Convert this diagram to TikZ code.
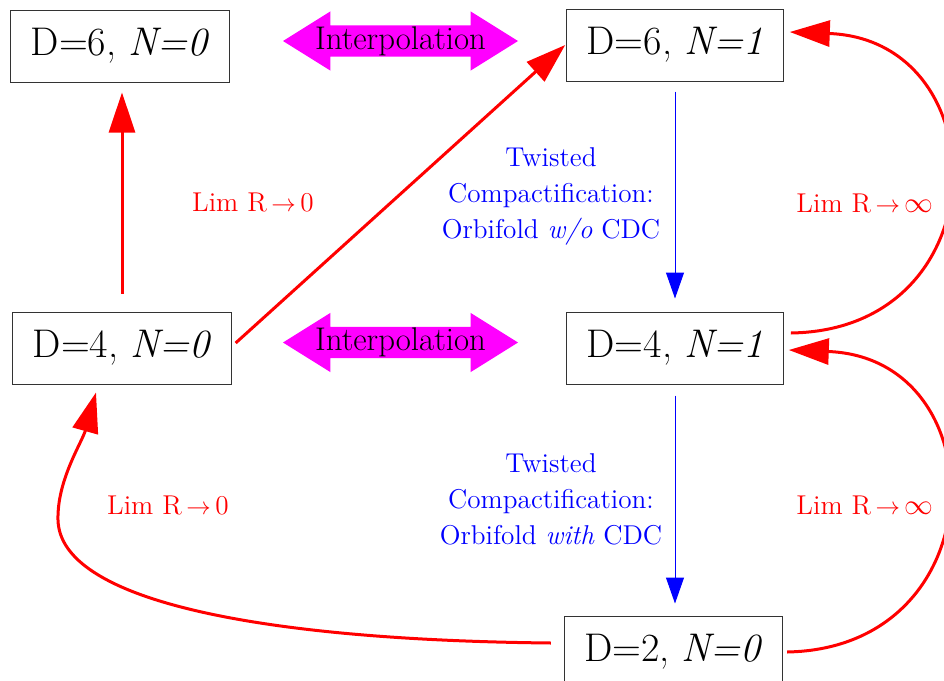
\documentclass[tikz,border=0pt]{standalone}
\usepackage{tikz}
\usetikzlibrary{arrows.meta, shapes.arrows}
\definecolor{interpmagenta}{RGB}{255, 0, 255}
\newcommand{\limsym}{\,\scalebox{0.85}{$\rightarrow$}\,}

\begin{document}
\begin{tikzpicture}[
  x=0.5pt, y=-0.5pt,
  statebox/.style={draw=black!80, line width=0.5pt, fill=white, minimum height=36pt, inner xsep=10pt, font=\fontsize{20}{24}\selectfont},
  interbox/.style={double arrow, fill=interpmagenta, minimum height=117.5pt, inner xsep=0pt, inner ysep=0.3pt, double arrow tip angle=64, double arrow head extend=7pt, font=\fontsize{16.4}{19}\selectfont},
  redlabel/.style={text=red, font=\fontsize{13.6}{18}\selectfont},
  bluelabel/.style={text=blue, align=center, font=\fontsize{13.6}{18}\selectfont},
  limarrow/.style={-{Triangle[length=20pt, width=13pt]}, red, line width=1.5pt},
  twistarrow/.style={-{Triangle[length=13pt, width=9pt]}, blue, line width=0.5pt}
]
\useasboundingbox (0,0) rectangle (944,681);

% States
\node[statebox] (d6n0) at (120,46) {D=6, \textit{N=0}};
\node[statebox] (d6n1) at (675,45) {D=6, \textit{N=1}};
\node[statebox] (d4n0) at (122,348) {D=4, \textit{N=0}};
\node[statebox] (d4n1) at (675,348) {D=4, \textit{N=1}};
\node[statebox] (d2n0) at (673.5,652) {D=2, \textit{N=0}};

% Interpolation arrows
\node[interbox] (inter6) at (400.5,41) {\makebox[60pt]{Interpolation}};
\node[interbox] (inter4) at (400.5,342.5) {\makebox[60pt]{Interpolation}};

% Twisted compactifications
\draw[twistarrow] ([yshift=-5pt]d6n1.south) -- ([yshift=6.5pt]d4n1.north);
\draw[twistarrow] ([yshift=-5.5pt]d4n1.south) -- ([yshift=6pt]d4n1.south |- d2n0.north);
\node[bluelabel] (twist1) at (551,196) {Twisted\\Compactification:\\Orbifold \textit{w/o} CDC};
\node[bluelabel] (twist2) at (551,499) {Twisted\\Compactification:\\Orbifold \textit{with} CDC};

% Limits R -> 0
\draw[limarrow] ([yshift=9pt]d4n0.north) -- ([yshift=-5pt]d4n0.north |- d6n0.south);
\draw[limarrow] ([xshift=2pt,yshift=2.5pt]d4n0.east) -- ([xshift=-0.5pt]d6n1.west);
\draw[limarrow] ([xshift=-6.5pt,yshift=4.5pt]d2n0.west)
  .. controls +(-295,-3) and +(2,80) .. (58,520)
  .. controls +(-1,-40) and +(-14,50) .. ([xshift=-13pt,yshift=-4pt]d4n0.south);
\node[redlabel] (lim1) at (253,202) {Lim R\limsym0};
\node[redlabel] (lim2) at (168,505) {Lim R\limsym0};

% Limits R -> infinity
\draw[limarrow] ([xshift=3.5pt,yshift=7.5pt]d4n1.east)
  .. controls +(210,-3) and +(210,8) .. ([xshift=3pt,yshift=6.5pt]d6n1.east);
\draw[limarrow] ([xshift=2pt]d2n0.east)
  .. controls +(210,-4) and +(210,8) .. ([xshift=2.5pt,yshift=-1pt]d4n1.east);
\node[redlabel] (lim3) at (865,203) {Lim R\limsym$\infty$};
\node[redlabel] (lim4) at (865,505) {Lim R\limsym$\infty$};

\end{tikzpicture}
\end{document}
